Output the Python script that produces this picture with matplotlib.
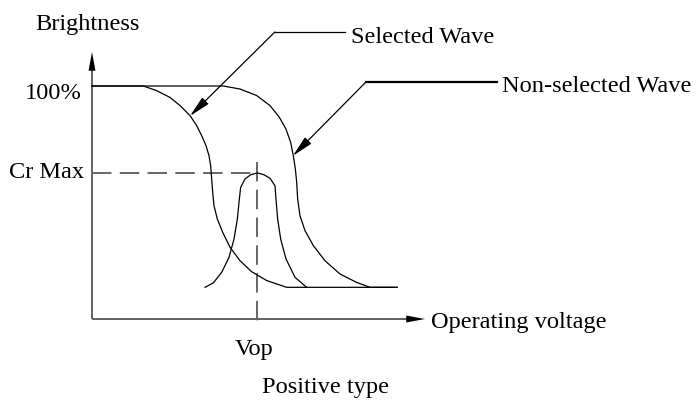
import matplotlib
matplotlib.use('Agg')
import matplotlib.pyplot as plt
import numpy as np

plt.rcParams['font.family'] = ['Liberation Serif', 'DejaVu Serif']
plt.rcParams['lines.scale_dashes'] = False

# operating voltage (arbitrary units) and brightness (%)
sel_v = [0.0, 1.546, 1.948, 2.349, 2.651, 2.952, 3.153, 3.303, 3.434, 3.524, 3.574,
         3.604, 3.635, 3.675, 3.775, 3.936, 4.157, 4.458, 4.809, 5.261, 5.863, 9.19]
sel_b = [100, 100, 98.0, 95.1, 91.6, 87.3, 83.0, 78.7, 74.4, 70.1, 65.8,
         60.1, 54.4, 48.6, 42.9, 37.2, 30.8, 25.0, 20.3, 16.5, 13.6, 13.6]

non_v = [0.0, 3.956, 4.458, 4.960, 5.361, 5.643, 5.843, 5.984, 6.064, 6.125, 6.165,
         6.195, 6.265, 6.416, 6.667, 7.018, 7.470, 7.972, 8.373, 9.19]
non_b = [100, 100, 98.7, 95.9, 91.6, 86.6, 81.5, 75.8, 70.1, 64.4, 58.7,
         51.5, 44.3, 37.9, 31.5, 25.0, 19.3, 15.7, 13.6, 13.6]

cr_v = [3.404, 3.655, 3.906, 4.127, 4.277, 4.378, 4.438, 4.478, 4.608, 4.779, 4.980,
        5.181, 5.361, 5.512, 5.542, 5.592, 5.683, 5.843, 6.114, 6.466]
cr_b = [13.6, 15.5, 20.0, 26.5, 34.3, 42.9, 51.5, 56.5, 60.1, 61.9, 62.7,
        61.9, 60.4, 57.2, 51.5, 42.9, 34.3, 25.8, 17.9, 13.6]

vop = 4.98
cr_max = 62.7
v_end = 10.03
b_end = 114.6

# leader lines: label end -> elbow -> arrow tip on the curve
sel_lead_v = [7.62, 5.51, 2.95]
sel_lead_b = [123.2, 123.2, 87.1]
non_lead_v = [12.20, 8.25, 6.05]
non_lead_b = [101.7, 101.7, 70.0]

fig = plt.figure(figsize=(6.96, 4.02), dpi=100)
ax = fig.add_axes([0, 0, 1, 1])
ax.set_xlim(-92 / 33.2, 604 / 33.2)
ax.set_ylim(-82 / 2.33, 320 / 2.33)
ax.axis('off')

axis_c = '#555555'
head = 'simple,head_length=1.35,head_width=0.5,tail_width=0.01'

# axes with arrows
ax.plot([0, 0], [0, b_end - 4], color=axis_c, lw=1.3, solid_capstyle='butt')
ax.plot([0, v_end - 0.3], [0, 0], color=axis_c, lw=1.3, solid_capstyle='butt')
ax.annotate('', xy=(0, b_end), xytext=(0, b_end - 9),
            arrowprops=dict(arrowstyle=head, color='k', lw=0, mutation_scale=10,
                            shrinkA=0, shrinkB=0))
ax.annotate('', xy=(v_end, 0), xytext=(v_end - 0.7, 0),
            arrowprops=dict(arrowstyle=head, color='k', lw=0, mutation_scale=10,
                            shrinkA=0, shrinkB=0))

# dashed guides
ax.plot([0, vop], [cr_max, cr_max], color='#666666', lw=1.4, dashes=(14, 6))
ax.plot([vop, vop], [67.4, -2.5], color='#666666', lw=1.4, dashes=(14, 6))

# curves
ax.plot(sel_v, sel_b, color='k', lw=0.9)
ax.plot(non_v, non_b, color='k', lw=0.9)
ax.plot(cr_v, cr_b, color='k', lw=0.9)

# leaders
ax.plot(sel_lead_v[:2], sel_lead_b[:2], color='k', lw=0.9)
ax.plot(non_lead_v[:2], non_lead_b[:2], color='k', lw=1.6)
ax.annotate('', xy=(sel_lead_v[2], sel_lead_b[2]), xytext=(sel_lead_v[1], sel_lead_b[1]),
            arrowprops=dict(arrowstyle='-|>,head_length=1.3,head_width=0.27', color='k',
                            lw=0.9, mutation_scale=10, shrinkA=0, shrinkB=0))
ax.annotate('', xy=(non_lead_v[2], non_lead_b[2]), xytext=(non_lead_v[1], non_lead_b[1]),
            arrowprops=dict(arrowstyle='-|>,head_length=1.3,head_width=0.27', color='k',
                            lw=0.9, mutation_scale=10, shrinkA=0, shrinkB=0))

fs = 17.6
ax.text(-1.717, 124.5, 'Brightness', fontsize=fs, ha='left', va='baseline')
ax.text(-0.30, 94.8, '100%', fontsize=fs, ha='right', va='baseline')
ax.text(-0.24, 60.9, 'Cr Max', fontsize=fs, ha='right', va='baseline')
ax.text(7.79, 119.0, 'Selected Wave', fontsize=fs, ha='left', va='baseline')
ax.text(12.34, 98.0, 'Non-selected Wave', fontsize=fs, ha='left', va='baseline')
ax.text(10.20, -3.56, 'Operating voltage', fontsize=fs, ha='left', va='baseline')
ax.text(4.88, -15.0, 'Vop', fontsize=fs, ha='center', va='baseline')
ax.text(7.04, -31.3, 'Positive type', fontsize=fs, ha='center', va='baseline')

fig.savefig('out.png', dpi=100)
